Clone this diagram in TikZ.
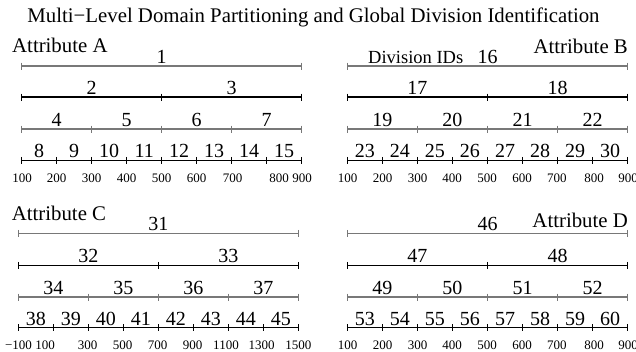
\documentclass[tikz,border=0pt]{standalone}
\usepackage{fontspec}
\setmainfont{Liberation Serif}
\definecolor{lvgray}{RGB}{120,120,120}
\tikzset{
  ttl/.style={inner sep=0pt, anchor=base, font=\fontsize{20.8}{24}\selectfont},
  attr/.style={inner sep=0pt, font=\fontsize{20.8}{24}\selectfont},
  divid/.style={inner sep=0pt, anchor=base west, font=\fontsize{18.5}{22}\selectfont},
  num/.style={inner sep=0pt, anchor=base, font=\fontsize{20}{24}\selectfont},
  tlab/.style={inner sep=0pt, anchor=base, font=\fontsize{13}{15}\selectfont},
  bar/.style={line width=1.4pt},
  tickl/.style={line width=1pt},
}
\newcommand\mypanel[8]{%
  \foreach \lev/\yy/\col in {0/#5/lvgray,1/#6/black,2/#7/lvgray,3/#8/black}{%
    \pgfmathtruncatemacro\nseg{2^\lev}%
    \draw[bar,draw=\col] (#2,\yy) -- (#3,\yy);%
    \foreach \k in {0,...,\nseg}{%
      \pgfmathsetmacro\xx{#2+\k*(#3-#2)/\nseg}%
      \draw[tickl,draw=\col] (\xx,\yy-3.5) -- (\xx,\yy+3.5);}%
    \foreach \k in {1,...,\nseg}{%
      \pgfmathsetmacro\xc{#2+(\k-0.5)*(#3-#2)/\nseg}%
      \pgfmathtruncatemacro\lab{#4+\nseg+\k-2}%
      \node[num] (#1-\lab) at (\xc,\yy-2.5) {\lab};}%
  }%
}
\begin{document}
\begin{tikzpicture}[x=1pt,y=-1pt]
\useasboundingbox (0,0) rectangle (636,351);
\node[ttl] (title) at (313.5,22) {Multi−Level Domain Partitioning and Global Division Identification};
\node[attr, anchor=base west] (attrA) at (12,52) {Attribute A};
\node[attr, anchor=base east] (attrB) at (628,53) {Attribute B};
\node[divid] (divids) at (368,63) {Division IDs};
\node[attr, anchor=base west] (attrC) at (11.7,220.5) {Attribute C};
\node[attr, anchor=base east] (attrD) at (628,227) {Attribute D};

\mypanel{a}{21.7}{301.7}{1}{66}{97}{129}{160.3}
\mypanel{b}{347.3}{627.7}{16}{66}{97}{129}{160.3}
\mypanel{c}{18.3}{298.3}{31}{233.3}{265.3}{297}{327.7}
\mypanel{d}{347.3}{627.7}{46}{233.3}{265.3}{297}{327.7}

\foreach \xx/\t [count=\i] in {22.2/100,56.7/200,91.7/300,126.7/400,161.7/500,196.7/600,232.5/700,279/800,302/900}
  \node[tlab] (tla-\i) at (\xx,182) {\t};
\foreach \xx/\t [count=\i] in {347.7/100,382.7/200,417.7/300,452/400,487/500,522/600,556.8/700,594/800,628/900}
  \node[tlab] (tlb-\i) at (\xx,182) {\t};
\foreach \xx/\t [count=\i] in {18.5/−100,45/100,87.5/300,122.5/500,157.5/700,192.5/900,226/1100,261.7/1300,298.3/1500}
  \node[tlab] (tlc-\i) at (\xx,349.5) {\t};
\foreach \xx/\t [count=\i] in {347.7/100,382.7/200,417.7/300,452/400,487/500,522/600,556.8/700,594/800,628/900}
  \node[tlab] (tld-\i) at (\xx,349.5) {\t};
\end{tikzpicture}
\end{document}
